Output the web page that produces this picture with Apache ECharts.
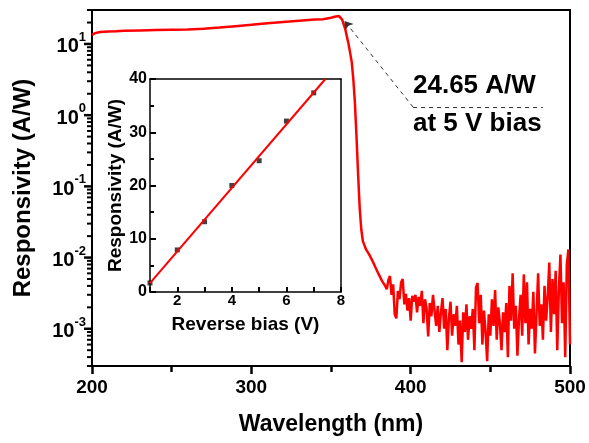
<!DOCTYPE html>
<html>
<head>
<meta charset="utf-8">
<script src="https://cdn.jsdelivr.net/npm/echarts@6/dist/echarts.min.js"></script>
<style>html,body{margin:0;padding:0;background:#fff}#c{width:589px;height:443px}</style>
</head>
<body>
<div id="c"></div>
<script>
// ---- Main spectrum: wavelength (nm) and responsivity (A/W) ----
const wavelength = [200,202,205,210,215,220,230,240,250,260,270,280,290,300,310,320,330,340,345,350,353,355,357,359,361,362,363,364,365,366,367,368,369,370,372,374,376,378,380,382,384,
385,386,387,388,389,390,391,392,393,394,395,396,397,398,399,400,401,402,403,404,405,406,407,408,409,410,
411,412,413,414,415,416,417,418,419,420,421,422,423,424,425,426,427,428,429,430,
431,432,433,434,435,436,437,438,439,440,441,442,443,444,445,446,447,448,449,450,
451,452,453,454,455,456,457,458,459,460,461,462,463,464,465,466,467,468,469,470,
471,472,473,474,475,476,477,478,479,480,481,482,483,484,485,486,487,488,489,490,
491,492,493,494,495,496,497,498,499,500];
const responsivity = [13.4,14.2,14.7,15.0,15.1,15.3,15.5,15.7,15.9,16.0,16.3,17.0,17.8,18.6,19.5,20.4,21.2,22.0,22.3,23.3,24.3,24.65,22.0,16,10,7.5,5.6,3.2,1.5,0.5,0.15,0.05,0.025,0.017,0.013,0.011,0.009,0.0072,0.0058,0.0047,0.004,
0.0036,0.0048,0.0055,0.0030,0.0042,0.0016,0.0014,0.0034,0.0026,0.0045,0.0050,0.0022,0.0031,0.0018,0.0027,0.0013,0.0029,0.0024,0.0030,0.0017,0.0028,0.0021,0.0034,0.0012,0.0026,0.0019,
0.00078,0.0023,0.0015,0.0030,0.0032,0.0011,0.0021,0.0009,0.0017,0.0027,0.0010,0.0019,0.0005,0.0014,0.0024,0.0008,0.0016,0.0011,0.0021,0.0006,
0.0013,0.00034,0.0017,0.0009,0.0022,0.0007,0.0015,0.0010,0.0019,0.0005,0.0038,0.0044,0.0012,0.0030,0.0006,0.0018,0.0009,0.00035,0.0016,0.0008,
0.0026,0.0011,0.0035,0.0007,0.0020,0.0012,0.0005,0.0017,0.0009,0.0023,0.0004,0.0040,0.0013,0.0060,0.0010,0.0021,0.00042,0.0014,0.0030,0.0008,
0.0058,0.0012,0.0045,0.0006,0.0019,0.0010,0.0033,0.00045,0.0016,0.0060,0.0011,0.0022,0.0007,0.0040,0.0013,0.0028,0.0085,0.0009,0.0050,0.0016,
0.0065,0.0005,0.0035,0.0110,0.0012,0.0045,0.0004,0.0080,0.0130,0.0006];

// ---- Inset: responsivity vs reverse bias ----
const reverseBias = [1,2,3,4,5,6,7];
const biasResponsivity = [1.7,7.9,13.2,20.0,24.65,32.1,37.4];

// ---- Axis tick settings ----
const xTicks = [200,300,400,500];
const yDecades = [-3,-2,-1,0,1];
const insetXLabels = [2,4,6,8];
const insetYTicks = [0,10,20,30,40];

// Annotation
const peakPoint = [358.5, 21];
const annotationText = ['24.65 A/W', 'at 5 V bias'];

// Least-squares fit for inset line
const n = reverseBias.length;
const mx = reverseBias.reduce((a,b)=>a+b,0)/n;
const my = biasResponsivity.reduce((a,b)=>a+b,0)/n;
let sxy=0, sxx=0;
for (let i=0;i<n;i++){ sxy += (reverseBias[i]-mx)*(biasResponsivity[i]-my); sxx += (reverseBias[i]-mx)**2; }
const slope = sxy/sxx, icpt = my - slope*mx;
const fitLine = [[1, icpt+slope*1], [(40-icpt)/slope, 40]];

const X_MIN = 200, X_MAX = 500, Y_MIN = 3e-4, Y_MAX = 30;
const majorY = yDecades.map(e => Math.pow(10, e));
// tick marks for log axis: [x at axis, value, length, width]
const logTicks = majorY.map(v => [X_MIN, v, 8, 2.5]);
for (let e=-4; e<=1; e++) for (let k=2;k<=9;k++){ const v = k*Math.pow(10,e); if (v>=Y_MIN && v<=Y_MAX) logTicks.push([X_MIN, v, 5, 2]); }

const FF = '"Liberation Sans", Arial, sans-serif';
const TC = '#000';
const boxX = (g, w, pos) => ({ type: 'value', gridIndex: g, position: pos, min: 0, max: 1,
  axisLine: { show: true, onZero: false, lineStyle: { color: '#000', width: w } },
  axisTick: { show: false }, axisLabel: { show: false }, splitLine: { show: false } });
const boxY = (g, w, pos) => ({ type: 'value', gridIndex: g, position: pos, min: 0, max: 1,
  axisLine: { show: true, onZero: false, lineStyle: { color: '#000', width: w } },
  axisTick: { show: false }, axisLabel: { show: false }, splitLine: { show: false } });

const chart = echarts.init(document.getElementById('c'));
chart.setOption({
  animation: false,
  backgroundColor: '#fff',
  grid: [
    { left: 92, right: 19, top: 10, bottom: 77 },
    { left: 150, right: 248, top: 79, bottom: 151 }
  ],
  xAxis: [
    { type: 'value', gridIndex: 0, min: X_MIN, max: X_MAX, interval: 100, position: 'bottom',
      name: 'Wavelength (nm)', nameLocation: 'middle', nameGap: 47,
      nameTextStyle: { fontSize: 23, fontWeight: 'bold', color: '#000', fontFamily: FF },
      axisLine: { show: true, onZero: false, lineStyle: { color: '#000', width: 2 } },
      axisTick: { show: true, inside: false, length: 8, lineStyle: { width: 2.5, color: TC } },
      minorTick: { show: true, splitNumber: 2, length: 6, lineStyle: { width: 2.5, color: TC } },
      axisLabel: { fontSize: 19, fontWeight: 'bold', color: '#000', margin: 12, fontFamily: FF,
                   formatter: v => xTicks.includes(v) ? String(v) : '' },
      splitLine: { show: false } },
    { type: 'value', gridIndex: 1, min: 1, max: 8, interval: 1, position: 'bottom',
      name: 'Reverse bias (V)', nameLocation: 'middle', nameGap: 23,
      nameTextStyle: { fontSize: 19, fontWeight: 'bold', color: '#000', fontFamily: FF },
      axisLine: { show: true, onZero: false, lineStyle: { color: '#000', width: 1.5 } },
      axisTick: { show: true, inside: true, length: 5, lineStyle: { width: 2, color: TC } },
      axisLabel: { fontSize: 15, fontWeight: 'bold', color: '#000', margin: 1, fontFamily: FF,
                   formatter: v => insetXLabels.includes(v) ? String(v) : '' },
      splitLine: { show: false } },
    boxX(0, 2, 'top'),
    boxX(1, 1.5, 'top')
  ],
  yAxis: [
    { type: 'log', gridIndex: 0, min: Y_MIN, max: Y_MAX, logBase: 10, position: 'left',
      name: 'Responsivity (A/W)', nameLocation: 'middle', nameGap: 57,
      nameTextStyle: { fontSize: 24, fontWeight: 'bold', color: '#000', fontFamily: FF },
      axisLine: { show: true, onZero: false, lineStyle: { color: '#000', width: 2 } },
      axisTick: { show: false },
      axisLabel: { margin: 6, color: '#000', customValues: majorY,
        formatter: v => { const e = Math.round(Math.log10(v)); return '{b|10}{s|' + e + '}'; },
        rich: {
          b: { fontSize: 20, fontWeight: 'bold', color: '#000', fontFamily: FF, verticalAlign: 'bottom', lineHeight: 26 },
          s: { fontSize: 13, fontWeight: 'bold', color: '#000', fontFamily: FF, verticalAlign: 'top' }
        } },
      splitLine: { show: false } },
    { type: 'value', gridIndex: 1, min: 0, max: 40, interval: 10, position: 'left',
      name: 'Responsivity (A/W)', nameLocation: 'middle', nameGap: 25,
      nameTextStyle: { fontSize: 19, fontWeight: 'bold', color: '#000', fontFamily: FF },
      axisLine: { show: true, onZero: false, lineStyle: { color: '#000', width: 1.5 } },
      axisTick: { show: true, inside: true, length: 6, lineStyle: { width: 2, color: TC } },
      minorTick: { show: true, splitNumber: 2, length: 4, lineStyle: { width: 2, color: TC } },
      axisLabel: { fontSize: 16, fontWeight: 'bold', color: '#000', margin: 3, fontFamily: FF,
                   formatter: v => insetYTicks.includes(v) ? String(v) : '' },
      splitLine: { show: false } },
    boxY(0, 2, 'right'),
    boxY(1, 1.5, 'right')
  ],
  series: [
    { type: 'line', xAxisIndex: 0, yAxisIndex: 0,
      data: wavelength.map((w,i)=>[w, responsivity[i]]),
      showSymbol: false, smooth: false,
      lineStyle: { color: '#ff0000', width: 2.5 },
      markLine: {
        silent: true, symbol: ['none','none'], animation: false,
        lineStyle: { color: '#333', type: [4,4], width: 1 },
        label: { show: false },
        data: [
          [ { coord: [401.5, 1.3], symbol: 'none' }, { coord: peakPoint, symbol: 'arrow', symbolSize: 8 } ],
          [ { coord: [401.5, 1.3], symbol: 'none' }, { coord: [483, 1.3], symbol: 'none' } ]
        ]
      } },
    { type: 'custom', xAxisIndex: 0, yAxisIndex: 0, clip: false, z: 10,
      data: logTicks,
      renderItem: (params, api) => {
        const p = api.coord([api.value(0), api.value(1)]);
        const len = api.value(2);
        return { type: 'line', shape: { x1: p[0] - len, y1: p[1], x2: p[0], y2: p[1] },
                 style: { stroke: TC, lineWidth: api.value(3) } };
      } },
    { type: 'line', xAxisIndex: 1, yAxisIndex: 1, data: fitLine, showSymbol: false,
      lineStyle: { color: '#ff0000', width: 2 } },
    { type: 'scatter', xAxisIndex: 1, yAxisIndex: 1,
      data: reverseBias.map((x,i)=>[x, biasResponsivity[i]]),
      symbol: 'rect', symbolSize: 5, itemStyle: { color: '#111' } }
  ],
  graphic: [
    { type: 'text', left: 413, top: 73, style: { text: annotationText[0], font: 'bold 26px ' + FF, fill: '#000' } },
    { type: 'text', left: 413, top: 111, style: { text: annotationText[1], font: 'bold 26px ' + FF, fill: '#000' } }
  ]
});
</script>
</body>
</html>
